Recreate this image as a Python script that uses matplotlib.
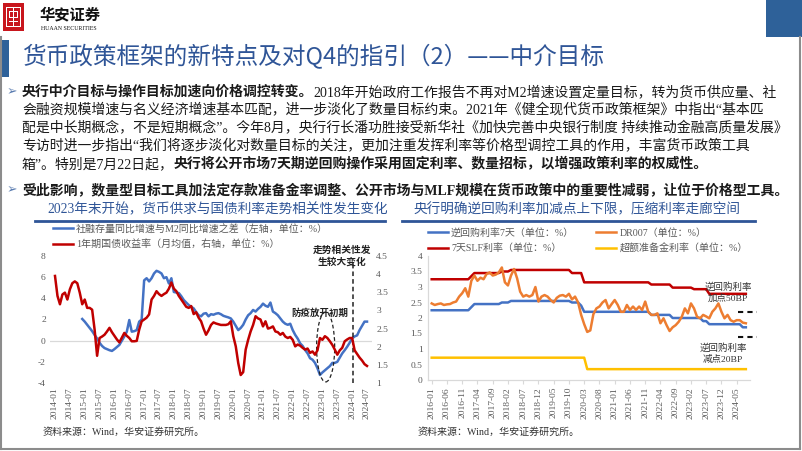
import matplotlib
matplotlib.use('Agg')
import matplotlib.pyplot as plt
from matplotlib.patches import Rectangle, Ellipse
from matplotlib.lines import Line2D
import numpy as np
import pandas as pd

plt.rcParams['axes.unicode_minus'] = False

W, H = 802, 451
CJK = ['Noto Sans CJK SC', 'DejaVu Sans']
MIX = ['Liberation Serif', 'Noto Sans CJK SC', 'DejaVu Sans']
SERIF = ['Liberation Serif', 'DejaVu Serif']

# ---------------- data: left chart ----------------
left_start = '2014-01'
left_end = '2024-07'
left_tick_labels = ['2014-01', '2014-07', '2015-01', '2015-07', '2016-01', '2016-07',
                    '2017-01', '2017-07', '2018-01', '2018-07', '2019-01', '2019-07',
                    '2020-01', '2020-07', '2021-01', '2021-07', '2022-01', '2022-07',
                    '2023-01', '2023-07', '2024-01', '2024-07']
# 社融存量同比增速与M2同比增速之差, starts 2014-12
gap_start = '2014-12'
gap_values = [2.05,
              1.8, 1.5, 1.2, 0.9, 0.54, 0.2, -0.2, -0.5, -0.7, -0.8, -0.9, -0.97,
              -0.8, -0.6, -0.4, 0.0, 0.4, 0.85, 1.95, 0.85, 0.9, 1.0, 1.8, 2.0,
              5.7, 5.9, 5.6, 5.9, 6.35, 6.6, 6.5, 6.35, 5.9, 6.0, 5.4, 5.9,
              4.6, 4.55, 4.5, 4.2, 3.84, 3.6, 3.37, 3.2, 3.05, 2.7, 2.4, 2.3,
              2.55, 2.6, 2.3, 2.5, 2.45, 2.55, 2.6, 2.5, 2.35, 2.27, 2.2, 2.1,
              1.8, 1.4, 1.0, 1.2, 1.5, 2.0, 2.4, 2.6, 2.9, 2.75, 3.0, 3.2,
              3.5, 3.3, 3.2, 3.6, 2.75, 2.6, 2.4, 2.1, 1.8, 1.6, 1.5, 1.6,
              1.0, 0.55, 0.2, -0.25, -0.5, -0.88, -1.2, -1.66, -1.8, -2.1, -2.6, -3.24,
              -3.0, -2.8, -2.6, -2.4, -2.1, -2.1, -2.0, -1.6, -1.2, -0.9, -0.57, -0.2,
              0.22, 0.4, 0.5, 1.0, 1.4, 1.8, 1.8]
# 1年期国债收益率 (monthly avg), starts 2014-01
yield_start = '2014-01'
yield_values = [3.95, 3.4, 3.17, 3.44, 3.49, 3.3, 3.58, 3.75, 3.8, 3.75, 3.49, 3.17,
                3.3, 3.07, 3.07, 3.02, 2.47, 1.75, 2.24, 2.28, 2.33, 2.42, 2.52, 2.4,
                2.3, 2.2, 2.12, 2.25, 2.38, 2.3, 2.24, 2.15, 2.15, 2.16, 2.47, 2.7,
                2.75, 2.8, 2.89, 3.3, 3.4, 3.53, 3.45, 3.4, 3.45, 3.49, 3.6, 3.77,
                3.6, 3.53, 3.4, 3.3, 3.2, 3.1, 3.07, 3.12, 2.9, 2.95, 2.8, 2.7,
                2.5, 2.33, 2.45, 2.6, 2.67, 2.64, 2.62, 2.6, 2.6, 2.6, 2.62, 2.7,
                2.29, 2.01, 1.55, 1.22, 1.3, 1.92, 2.19, 2.42, 2.6, 2.84, 2.78, 2.75,
                2.56, 2.7, 2.5, 2.52, 2.56, 2.42, 2.4, 2.33, 2.38, 2.28, 2.24, 2.27,
                2.19, 2.01, 2.06, 2.03, 1.97, 1.92, 1.95, 1.83, 1.87, 1.78, 1.9, 2.24,
                2.19, 2.29, 2.24, 2.15, 2.05, 1.92, 1.78, 1.9, 1.97, 2.15, 2.2, 2.24,
                2.24, 1.9, 1.8, 1.7, 1.62, 1.52, 1.47]
left_change_date = '2024-01'
ellipse_center_date = '2023-03'

# ---------------- data: right chart ----------------
right_start = '2016-01'
right_tick_labels = ['2016-01', '2016-06', '2016-11', '2017-04', '2017-09', '2018-02',
                     '2018-07', '2018-12', '2019-05', '2019-10', '2020-03', '2020-08',
                     '2021-01', '2021-06', '2021-11', '2022-04', '2022-09', '2023-02',
                     '2023-07', '2023-12', '2024-05']
rr7_values = ([2.25] * 12 +
              [2.25, 2.35] + [2.45] * 9 + [2.5] +
              [2.5, 2.5] + [2.55] * 10 +
              [2.55] * 10 + [2.5, 2.5] +
              [2.5, 2.4] + [2.2] * 10 +
              [2.2] * 12 +
              [2.1] * 7 + [2.0] * 5 +
              [2.0] * 5 + [1.9] * 2 + [1.8] * 5 +
              [1.8] * 6 + [1.7] * 2)
slf_values = ([3.25] * 12 +
              [3.25, 3.35] + [3.45] * 9 + [3.5] +
              [3.5, 3.5] + [3.55] * 10 +
              [3.55] * 10 + [3.45, 3.45] +
              [3.45, 3.45] + [3.15] * 10 +
              [3.15] * 12 +
              [3.08] * 7 + [2.98] * 5 +
              [2.98] * 2 + [2.93] * 5 + [2.78] * 5 +
              [2.78] * 8)
dr007_values = [2.47, 2.42, 2.45, 2.47, 2.42, 2.44, 2.45, 2.5, 2.53, 2.69, 2.8, 2.96,
                2.69, 3.2, 3.37, 3.2, 3.3, 3.25, 3.42, 3.47, 3.37, 3.4, 3.47, 3.63,
                3.15, 3.05, 3.37, 3.58, 3.28, 2.85, 2.69, 2.74, 2.69, 2.74, 3.0, 2.53,
                2.69, 2.74, 2.69, 2.58, 2.5, 2.65, 2.72, 2.74, 2.69, 2.78, 2.6, 2.69,
                2.5, 2.1, 1.8, 1.55, 1.6, 2.12, 2.31, 2.37, 2.5, 2.58, 2.31, 2.45,
                2.58, 2.42, 2.2, 2.2, 2.42, 2.26, 2.37, 2.26, 2.37, 2.26, 2.53, 2.2,
                2.1, 2.1, 2.15, 1.83, 1.99, 1.77, 1.58, 1.7, 1.77, 1.88, 2.04, 2.31,
                2.15, 2.47, 2.31, 2.04, 1.99, 2.1, 2.05, 1.99, 2.2, 2.31, 2.47, 2.2,
                1.99, 2.1, 1.93, 1.88, 1.93, 1.93, 1.85, 1.83]
ioer_values = [0.72] * 51 + [0.35] * 53
upper_band = 2.2
lower_band = 1.4

# ---------------- text ----------------
page_title = '货币政策框架的新特点及对Q4的指引（2）——中介目标'
body_lines = [
    [('央行中介目标与操作目标加速向价格调控转变。', True),
     ('2018年开始政府工作报告不再对M2增速设置定量目标，转为货币供应量、社', False)],
    [('会融资规模增速与名义经济增速基本匹配，进一步淡化了数量目标约束。2021年《健全现代货币政策框架》中指出“基本匹', False)],
    [('配是中长期概念，不是短期概念”。今年8月，央行行长潘功胜接受新华社《加快完善中央银行制度 持续推动金融高质量发展》', False)],
    [('专访时进一步指出“我们将逐步淡化对数量目标的关注，更加注重发挥利率等价格型调控工具的作用，丰富货币政策工具', False)],
    [('箱”。特别是7月22日起，', False),
     ('央行将公开市场7天期逆回购操作采用固定利率、数量招标，以增强政策利率的权威性。', True)],
]
bullet2 = [('受此影响，数量型目标工具加法定存款准备金率调整、公开市场与MLF规模在货币政策中的重要性减弱，让位于价格型工具。', True)]
left_title = '2023年末开始，货币供求与国债利率走势相关性发生变化'
right_title = '央行明确逆回购利率加减点上下限，压缩利率走廊空间'
source_text = '资料来源：Wind，华安证券研究所。'

BLUE = '#4472C4'
RED = '#C00000'
ORANGE = '#ED7D31'
YELLOW = '#FFC000'
TITLE_BLUE = '#2F5597'
GRAY = '#595959'

fig = plt.figure(figsize=(8.02, 4.51), dpi=100)
fig.patch.set_facecolor('white')


def fx(x):
    return x / W


def fy(y):
    return 1 - y / H


def rect(x0, y0, x1, y1, **kw):
    fig.patches.append(Rectangle((fx(x0), fy(y1)), (x1 - x0) / W, (y1 - y0) / H,
                                 transform=fig.transFigure, **kw))


def hline(x0, x1, y, **kw):
    fig.lines.append(Line2D([fx(x0), fx(x1)], [fy(y), fy(y)], transform=fig.transFigure, **kw))


def vline(x, y0, y1, **kw):
    fig.lines.append(Line2D([fx(x), fx(x)], [fy(y0), fy(y1)], transform=fig.transFigure, **kw))


renderer = fig.canvas.get_renderer()


def runs(x, y, parts, size, color='#1a1a1a'):
    cx = x
    for txt, bold in parts:
        t = fig.text(fx(cx), fy(y), txt, fontsize=size, family=MIX,
                     fontweight='bold' if bold else 'normal', color=color,
                     ha='left', va='center')
        cx += t.get_window_extent(renderer=renderer).width


# ---------------- header ----------------
rect(3, 3, 24, 31, facecolor='#C8161D', edgecolor='none')
for (a, b, c, d) in [(6, 7, 21, 8.2), (6, 26, 21, 27.2), (6, 7, 7.2, 27.2), (19.8, 7, 21, 27.2),
                     (9, 11, 18, 12), (9, 16.5, 18, 17.5), (9, 11, 10, 17.5), (17, 11, 18, 17.5),
                     (13, 7, 14, 27.2), (9, 21, 18, 22)]:
    rect(a, b, c, d, facecolor='white', edgecolor='none')
fig.text(fx(40), fy(14), '华安证券', fontsize=11, family=CJK, fontweight='bold',
         color='#111111', ha='left', va='center', style='italic')
fig.text(fx(41), fy(28), 'HUAAN SECURITIES', fontsize=4.2, family=SERIF,
         color='#111111', ha='left', va='center')
rect(766, 0, 802, 37, facecolor='#2E6199', edgecolor='none')
# frame
vline(1, 37, 449, color='#8C8C8C', lw=1.5)
vline(800, 37, 449, color='#8C8C8C', lw=1.5)
hline(1, 800, 449, color='#8C8C8C', lw=1.5)
rect(1, 40, 9, 77, facecolor='#2E6199', edgecolor='none')

fig.text(fx(22), fy(57), page_title, fontsize=17, family=CJK, color=TITLE_BLUE,
         ha='left', va='center')

# ---------------- body ----------------
body_y = [92, 110, 128, 146, 164]
for i, (yy, parts) in enumerate(zip(body_y, body_lines)):
    if i == 0:
        fig.text(fx(7), fy(yy), '➢', fontsize=9, family=['DejaVu Sans'], color='#5B7DB1',
                 ha='left', va='center')
    runs(22, yy, parts, 10)
fig.text(fx(7), fy(190), '➢', fontsize=9, family=['DejaVu Sans'], color='#5B7DB1',
         ha='left', va='center')
runs(22, 190, bullet2, 10)

# ---------------- chart titles ----------------
fig.text(fx(218), fy(210), left_title, fontsize=9.8, family=MIX, color=TITLE_BLUE,
         ha='center', va='center')
hline(35, 385, 221, color=TITLE_BLUE, lw=2)
fig.text(fx(577), fy(210), right_title, fontsize=9.8, family=MIX, color=TITLE_BLUE,
         ha='center', va='center')
hline(402, 755, 221, color=TITLE_BLUE, lw=2)

# ---------------- left chart ----------------
left_months = pd.period_range(left_start, left_end, freq='M')
mi = {str(p): i for i, p in enumerate(left_months)}
px_per_m = (367 - 55) / 126.0
axL = fig.add_axes([fx(50), fy(383), (372 - 50) / W, (383 - 256) / H])
xlo = -5 / px_per_m
axL.set_xlim(xlo, 126 + 5 / px_per_m)
axL.set_ylim(-4, 8)
x_gap = np.arange(mi[gap_start], mi[gap_start] + len(gap_values))
x_yld = np.arange(mi[yield_start], mi[yield_start] + len(yield_values))
axL.axhline(0, color='#D9D9D9', lw=0.9, zorder=1)
l1, = axL.plot(x_gap, gap_values, color=BLUE, lw=1.8, zorder=3)
axR = axL.twinx()
axR.set_ylim(1, 4.5)
l2, = axR.plot(x_yld, yield_values, color=RED, lw=1.8, zorder=3)
for a in (axL, axR):
    for s in a.spines.values():
        s.set_visible(False)
    a.patch.set_visible(False)
axL.set_yticks([-4, -2, 0, 2, 4, 6, 8])
axL.set_yticklabels(['-4', '-2', '0', '2', '4', '6', '8'])
axR.set_yticks([1, 1.5, 2, 2.5, 3, 3.5, 4, 4.5])
axR.set_yticklabels(['1', '1.5', '2', '2.5', '3', '3.5', '4', '4.5'])
axL.set_xticks([mi[t] for t in left_tick_labels])
axL.set_xticklabels(left_tick_labels, rotation=90)
for a in (axL, axR):
    a.tick_params(length=0, labelsize=6.8, labelcolor=GRAY, pad=3)
    for lab in a.get_xticklabels() + a.get_yticklabels():
        lab.set_family(SERIF)
# annotations
xc = mi[left_change_date] + 0.5
axL.plot([xc, xc], [-4, 7.3], color='#222222', lw=1.1, ls=(0, (3, 2)), clip_on=False, zorder=4)
axL.text(xc - 4.6, 8.0, '走势相关性发\n生较大变化', fontsize=7, family=CJK, color='#222222',
         ha='center', va='center', linespacing=1.25, fontweight='bold')
ec = mi[ellipse_center_date] - 0.7
axL.add_patch(Ellipse((ec, -0.6), 7.3, 6.6, fill=False, edgecolor='#222222', lw=0.9,
                      ls=(0, (3, 2)), zorder=4))
axL.text(ec - 2.5, 2.6, '防疫放开初期', fontsize=6.8, family=CJK, color='#222222',
         ha='center', va='center', fontweight='bold')
fig.legend([l1, l2], ['社融存量同比增速与M2同比增速之差（左轴，单位：%）',
                      '1年期国债收益率（月均值，右轴，单位：%）'],
           loc='upper left', bbox_to_anchor=(fx(53), fy(224)), frameon=False,
           prop={'family': MIX, 'size': 7.2}, labelcolor=GRAY, handlelength=2.0,
           handletextpad=0.3, labelspacing=0.55, borderpad=0, borderaxespad=0)
fig.text(fx(43), fy(432), source_text, fontsize=7.2, family=MIX, color='#333333',
         ha='left', va='center')

# ---------------- right chart ----------------
right_months = pd.period_range(right_start, periods=len(dr007_values), freq='M')
ri = {str(p): i for i, p in enumerate(right_months)}
ppm = (736.7 - 431.7) / 100.0
axB = fig.add_axes([fx(428), fy(380), (750 - 428) / W, (380 - 256) / H])
axB.set_xlim((428 - 431.7) / ppm, (750 - 431.7) / ppm)
axB.set_ylim(0, 4)
xr = np.arange(len(dr007_values))
b1, = axB.plot(xr, rr7_values, color=BLUE, lw=1.8, zorder=3)
b2, = axB.plot(xr, dr007_values, color=ORANGE, lw=1.8, zorder=4)
b3, = axB.plot(xr, slf_values, color=RED, lw=1.8, zorder=3)
b4, = axB.plot(xr, ioer_values, color=YELLOW, lw=1.8, zorder=3)
for k, s in axB.spines.items():
    if k in ('bottom', 'left'):
        s.set_color('#D9D9D9')
        s.set_linewidth(0.9)
    else:
        s.set_visible(False)
axB.set_yticks([0, 0.5, 1, 1.5, 2, 2.5, 3, 3.5, 4])
axB.set_yticklabels(['0', '0.5', '1', '1.5', '2', '2.5', '3', '3.5', '4'])
axB.set_xticks([ri[t] for t in right_tick_labels])
axB.set_xticklabels(right_tick_labels, rotation=90)
axB.tick_params(axis='x', length=3, color='#D9D9D9', labelsize=6.8, labelcolor=GRAY, pad=2)
axB.tick_params(axis='y', length=0, labelsize=6.8, labelcolor=GRAY, pad=4)
for lab in axB.get_xticklabels() + axB.get_yticklabels():
    lab.set_family(SERIF)
axB.patch.set_visible(False)
axB.plot([100.3, 106.8], [upper_band, upper_band], color='#111111', lw=1.5,
         ls=(0, (2.5, 2)), clip_on=False, zorder=5)
axB.plot([100.3, 106.8], [lower_band, lower_band], color='#111111', lw=1.5,
         ls=(0, (2.5, 2)), clip_on=False, zorder=5)
axB.text(97.1, 2.82, '逆回购利率\n加点50BP', fontsize=6.8, family=MIX, color='#333333',
         ha='center', va='center', linespacing=1.3)
axB.text(95.5, 0.85, '逆回购利率\n减点20BP', fontsize=6.8, family=MIX, color='#333333',
         ha='center', va='center', linespacing=1.3)
fig.legend([b1, b3, b2, b4], ['逆回购利率7天（单位：%）', '7天SLF利率（单位：%）',
                              'DR007（单位：%）', '超额准备金利率（单位：%）'],
           ncol=2, loc='upper left', bbox_to_anchor=(fx(428), fy(228)), frameon=False,
           prop={'family': MIX, 'size': 7.2}, labelcolor=GRAY, handlelength=2.0,
           handletextpad=0.3, labelspacing=0.55, borderpad=0, borderaxespad=0,
           columnspacing=2.2)
fig.text(fx(418), fy(432), source_text, fontsize=7.2, family=MIX, color='#333333',
         ha='left', va='center')

fig.savefig('out.png', dpi=100, facecolor='white')
